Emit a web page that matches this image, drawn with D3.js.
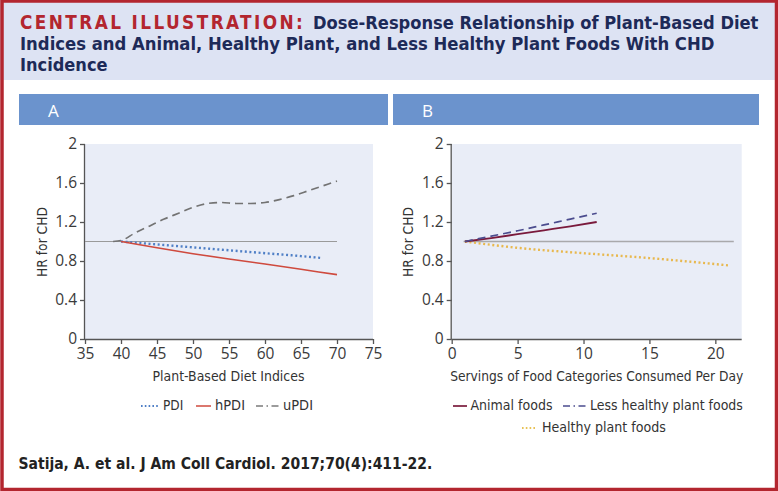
<!DOCTYPE html>
<html><head><meta charset="utf-8">
<script src="https://cdn.jsdelivr.net/npm/d3@7"></script>
<style>
body{margin:0;padding:0;background:#fff;}
svg{display:block;}
</style></head>
<body>
<svg id="c" width="778" height="491"></svg>
<script>
// ---- data ----
const yTicks = [0, 0.4, 0.8, 1.2, 1.6, 2];
const xTicksA = [35, 40, 45, 50, 55, 60, 65, 70, 75];
const xTicksB = [0, 5, 10, 15, 20];

const pdiX  = [40, 45, 50, 55, 60, 65, 68];
const pdiY  = [1.0, 0.97, 0.94, 0.91, 0.88, 0.85, 0.83];
const hpdiX = [40, 45, 50, 55, 60, 65, 70];
const hpdiY = [1.0, 0.935, 0.875, 0.82, 0.77, 0.715, 0.66];
const updiX = [38.9, 40, 42, 44, 46, 48, 50, 52, 54, 56, 58, 60, 62, 64, 66, 68, 70];
const updiY = [1.0, 1.01, 1.09, 1.16, 1.23, 1.29, 1.35, 1.39, 1.40, 1.39, 1.39, 1.40, 1.43, 1.47, 1.52, 1.57, 1.62];
const refAX = [35, 70], refAY = [1, 1];

const animalX = [1, 3, 5, 7, 9, 11];
const animalY = [1.0, 1.035, 1.075, 1.115, 1.155, 1.2];
const lessX   = [1, 3, 5, 7, 9, 11];
const lessY   = [1.0, 1.055, 1.11, 1.17, 1.23, 1.29];
const healthyX = [1, 5, 10, 15, 21];
const healthyY = [1.0, 0.935, 0.88, 0.83, 0.755];
const refBX = [0.9, 21.4], refBY = [1, 1];

const titleRed = "CENTRAL ILLUSTRATION:";
const titleL1 = "Dose-Response Relationship of Plant-Based Diet";
const titleL2 = "Indices and Animal, Healthy Plant, and Less Healthy Plant Foods With CHD";
const titleL3 = "Incidence";
const citation = "Satija, A. et al. J Am Coll Cardiol. 2017;70(4):411-22.";

// ---- drawing ----
const svg = d3.select("#c");
const COND = "'Liberation Sans Narrow','DejaVu Sans Condensed','Roboto Condensed',Roboto,sans-serif";
const RED = "#b3262f", NAVY = "#1d2a58";

svg.append("rect").attr("x",0).attr("y",0).attr("width",778).attr("height",80).attr("fill","#dde3f3");
svg.append("rect").attr("x",2).attr("y",1).attr("width",774.5).attr("height",488.5)
  .attr("fill","none").attr("stroke",RED).attr("stroke-width",3.5);

function txt(t, x, y, opts){
  const e = svg.append("text").attr("x",x).attr("y",y).text(t)
    .attr("font-family", opts.family || COND)
    .attr("font-size", opts.size).attr("font-weight", opts.weight || "normal")
    .attr("fill", opts.fill || "#333");
  if (opts.anchor) e.attr("text-anchor", opts.anchor);
  if (opts.ls) e.attr("letter-spacing", opts.ls);
  if (opts.len) {
    const nat = e.node().getComputedTextLength();
    if (nat > 0) {
      let f = opts.len / nat;
      const lim = opts.lim || 0.1;
      f = Math.max(1 - lim, Math.min(1 + lim, f));
      e.attr("font-size", opts.size * f);
      const nat2 = e.node().getComputedTextLength();
      if (Math.abs(nat2 - opts.len) > 2) {
        e.attr("textLength", opts.len).attr("lengthAdjust","spacingAndGlyphs");
      }
    }
  }
  return e;
}
txt(titleRed, 20, 29, {size:19, weight:"bold", fill:RED, len:285, ls:2.4, lim:0.03});
txt(titleL1, 313, 29, {size:19, weight:"bold", fill:NAVY, len:446, lim:0.05});
txt(titleL2, 20, 50, {size:19, weight:"bold", fill:NAVY, len:695, lim:0.05});
txt(titleL3, 20, 71, {size:19, weight:"bold", fill:NAVY, len:86, lim:0.05});

const panels = [
  {label:"A", barX:19, barW:369, x0:85, x1:373, dom:[35,75], ticks:xTicksA, title:"Plant-Based Diet Indices", titleLen:152,
   ylabX:42,
   series:[
     {x:refAX, y:refAY, color:"#9a9a9a", w:1.1, dash:null},
     {x:pdiX, y:pdiY, color:"#4f7fc6", w:2.4, dash:"2,2.6"},
     {x:hpdiX, y:hpdiY, color:"#cf4a3e", w:1.6, dash:null},
     {x:updiX, y:updiY, color:"#737373", w:1.7, dash:"8,5"}
   ]},
  {label:"B", barX:393, barW:366, x0:451.7, x1:741.7, dom:[0,22], ticks:xTicksB, title:"Servings of Food Categories Consumed Per Day", titleLen:293,
   ylabX:408,
   series:[
     {x:refBX, y:refBY, color:"#a9a9ab", w:1.3, dash:null},
     {x:healthyX, y:healthyY, color:"#e8b84e", w:2.4, dash:"2,2.6"},
     {x:animalX, y:animalY, color:"#7a1a3c", w:1.8, dash:null},
     {x:lessX, y:lessY, color:"#4b4c8e", w:1.7, dash:"8,5"}
   ]}
];
const yTop = 144, yBot = 339;
const y = d3.scaleLinear().domain([0,2]).range([yBot, yTop]);

panels.forEach(p => {
  svg.append("rect").attr("x",p.barX).attr("y",94).attr("width",p.barW).attr("height",31).attr("fill","#6b93cd");
  txt(p.label, p.barX + 29, 117, {size:17, fill:"#fff", family:"'Open Sans',sans-serif"});
  const x = d3.scaleLinear().domain(p.dom).range([p.x0, p.x1]);
  svg.append("rect").attr("x",p.x0).attr("y",yTop).attr("width",p.x1-p.x0).attr("height",yBot-yTop).attr("fill","#e9edf7");

  const gy = svg.append("g").attr("transform",`translate(${p.x0},0)`)
    .call(d3.axisLeft(y).tickValues(yTicks).tickSize(5).tickPadding(3).tickFormat(d3.format("~g")));
  const gx = svg.append("g").attr("transform",`translate(0,${yBot})`)
    .call(d3.axisBottom(x).tickValues(p.ticks).tickSize(5).tickPadding(4).tickSizeOuter(0));
  [gy,gx].forEach(g=>{
    g.select(".domain").attr("stroke","#555").attr("stroke-width",1.3);
    g.selectAll(".tick line").attr("stroke","#555").attr("stroke-width",1.3);
    g.selectAll(".tick text").attr("font-family","'Open Sans',sans-serif").attr("font-size",15.5).attr("fill","#3a3a3a");
  });
  gy.select(".domain").attr("d", `M-0.5,${yTop}V${yBot}`);
  gx.select(".domain").attr("d", `M${p.x0},0.5H${p.x1}`);

  txt(p.title, (p.x0+p.x1)/2 + (p.label==="A"? -0.5 : 0), 381, {size:16, anchor:"middle", fill:"#333", len:p.titleLen});
  txt("HR for CHD", 0, 0, {size:16.5, anchor:"middle", fill:"#333", len:70})
    .attr("transform",`translate(${p.ylabX+5},242) rotate(-90)`);

  const line = d3.line().x(d=>x(d[0])).y(d=>y(d[1])).curve(d3.curveMonotoneX);
  p.series.forEach(s=>{
    const pts = s.x.map((v,i)=>[v, s.y[i]]);
    const path = svg.append("path").attr("d", line(pts)).attr("fill","none")
      .attr("stroke", s.color).attr("stroke-width", s.w);
    if (s.dash) path.attr("stroke-dasharray", s.dash);
  });
});

function legLine(x1, x2, yy, color, w, dash){
  const l = svg.append("line").attr("x1",x1).attr("x2",x2).attr("y1",yy).attr("y2",yy)
    .attr("stroke",color).attr("stroke-width",w);
  if (dash) l.attr("stroke-dasharray",dash);
}
const LY1 = 405, LY2 = 427;
legLine(141,159,LY1+1,"#4f7fc6",1.8,"1.6,2.2"); txt("PDI",163,LY1+5,{size:15,len:20});
legLine(196,211,LY1+1,"#cf4a3e",1.5,null); txt("hPDI",215,LY1+5,{size:15,len:30});
legLine(256,280,LY1+1,"#7b7b7b",1.5,"7,3.5,1.5,3.5"); txt("uPDI",283,LY1+5,{size:15,len:30});
legLine(453,467,LY1+1,"#7a1a3c",1.7,null); txt("Animal foods",470.5,LY1+5,{size:15,len:82});
legLine(563,586,LY1+1,"#4b4c8e",1.5,"7,3.5,1.5,3.5"); txt("Less healthy plant foods",590,LY1+5,{size:15,len:153});
legLine(522,537,LY2+1,"#e8c256",1.8,"1.6,2.2"); txt("Healthy plant foods",542,LY2+5,{size:15,len:124});

txt(citation, 18.5, 469, {size:17, weight:"bold", fill:"#222", len:414});
</script>
</body></html>
